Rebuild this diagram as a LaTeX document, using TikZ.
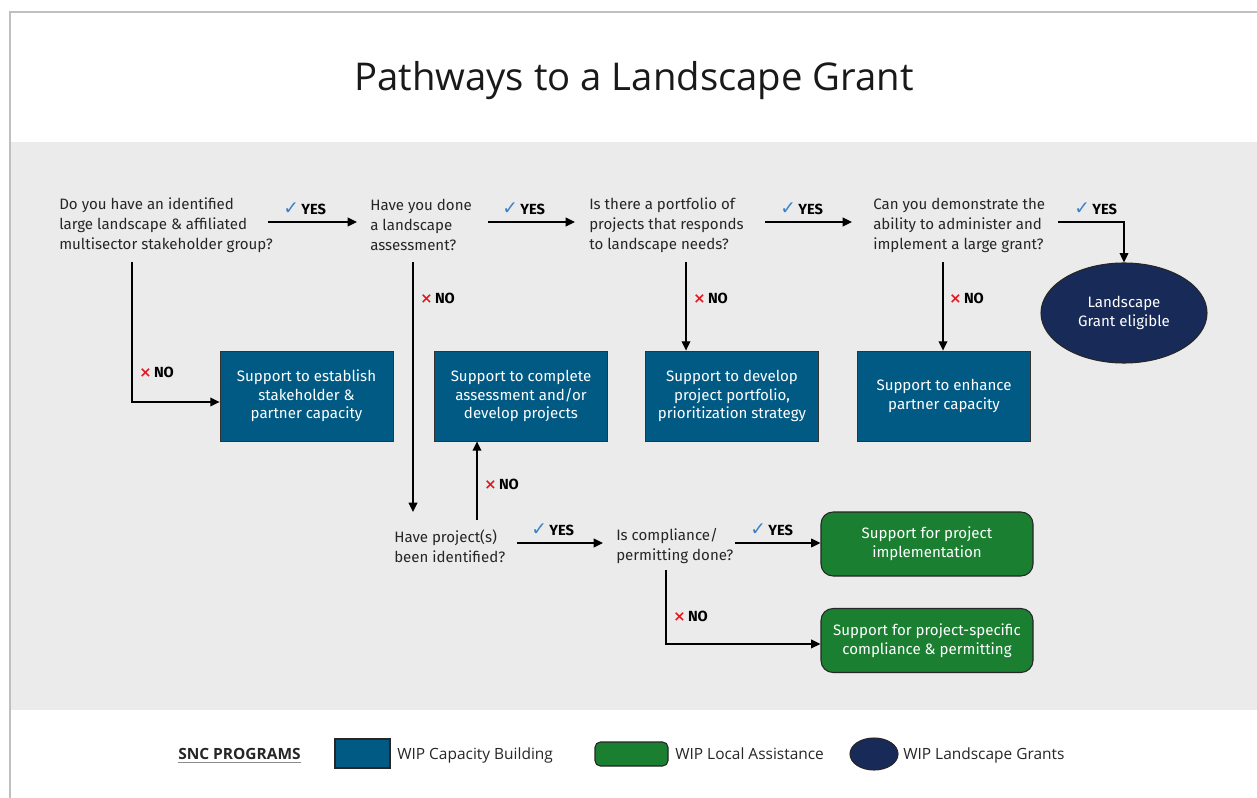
\documentclass[tikz,border=0pt]{standalone}
\usepackage{fontspec}
\setmainfont{Fira Sans}
\newfontfamily\legfont{Open Sans}
\newfontfamily\symfont{DejaVu Sans}
\usetikzlibrary{arrows.meta,shapes.geometric,calc}
\definecolor{bggray}{HTML}{EBEBEB}
\definecolor{capblue}{HTML}{005A84}
\definecolor{locgreen}{HTML}{1B7F31}
\definecolor{navy}{HTML}{172A58}
\definecolor{chkblue}{HTML}{3B82C8}
\definecolor{xred}{HTML}{E3161E}
\newcommand{\chk}{{\symfont\color{chkblue}\fontsize{14}{14}\selectfont ✓}}
\newcommand{\crs}{{\symfont\color{xred}\bfseries\fontsize{11}{11}\selectfont ×}}
\begin{document}
\begin{tikzpicture}[x=0.75pt,y=-0.75pt,
  arr/.style={line width=1.1pt,-{Triangle[length=7pt,width=6.5pt]}},
  qtext/.style={anchor=west,inner sep=0pt,align=left,font=\fontsize{11.3}{15}\selectfont,text=black!85},
  yeslab/.style={anchor=base west,inner sep=0pt,font=\fontsize{11}{12}\selectfont\bfseries},
  nolab/.style={anchor=base west,inner sep=0pt,font=\fontsize{11}{12}\selectfont\bfseries},
  capbox/.style={draw=black!80,line width=0.6pt,fill=capblue,text=white,align=center,
     minimum width=129.75pt,minimum height=67.5pt,inner sep=2pt,font=\fontsize{11.3}{14}\selectfont},
  locbox/.style={draw=black!85,line width=0.8pt,fill=locgreen,text=white,align=center,rounded corners=9pt,
     minimum width=159pt,minimum height=48pt,inner sep=2pt,font=\fontsize{11.3}{14}\selectfont},
  grantell/.style={ellipse,draw=black!85,line width=0.8pt,fill=navy,text=white,align=center,
     minimum width=124.5pt,minimum height=75pt,inner sep=0pt,font=\fontsize{11.3}{14}\selectfont},
  legtext/.style={anchor=base west,inner sep=0pt,font=\legfont\fontsize{11.6}{13}\selectfont,text=black!85}
]
\useasboundingbox (0,0) rectangle (1257,798);
\fill[white] (0,0) rectangle (1257,798);
\fill[bggray] (10,142) rectangle (1257,710);
\draw[black!25,line width=1.2pt] (10,798) -- (10,12) -- (1257,12);

% title
\node[font=\legfont\fontsize{28.7}{32}\selectfont,text=black!90] (title) at (634,81) {Pathways to a Landscape Grant};

% questions
\node[qtext] (q1) at (59,225) {Do you have an identified\\large landscape \& affiliated\\multisector stakeholder group?};
\node[qtext] (q2) at (370,225) {Have you done\\a landscape\\assessment?};
\node[qtext] (q3) at (589,225) {Is there a portfolio of\\projects that responds\\to landscape needs?};
\node[qtext] (q4) at (873,225) {Can you demonstrate the\\ability to administer and\\implement a large grant?};
\node[qtext] (q5) at (394,546) {Have project(s)\\been identified?};
\node[qtext] (q6) at (616,546) {Is compliance/\\permitting done?};

% outcome boxes
\node[capbox] (b1) at (306.5,396) {Support to establish\\stakeholder \&\\partner capacity};
\node[capbox] (b2) at (521,396) {Support to complete\\assessment and/or\\develop projects};
\node[capbox] (b3) at (732,396) {Support to develop\\project portfolio,\\prioritization strategy};
\node[capbox] (b4) at (944,396) {Support to enhance\\partner capacity};
\node[grantell] (el) at (1124,313) {Landscape\\Grant eligible};
\node[locbox] (g1) at (927,544) {Support for project\\implementation};
\node[locbox] (g2) at (927,640.5) {Support for project-specific\\compliance \& permitting};

% connector start points
\coordinate (y1s) at (268,222);
\coordinate (y1e) at (357,222);
\coordinate (y2s) at (488,222);
\coordinate (y2e) at (575,222);
\coordinate (y3s) at (765,222);
\coordinate (y3e) at (852,222);
\coordinate (y4s) at (1058,222);
\coordinate (y5s) at (517,543);
\coordinate (y5e) at (603,543);
\coordinate (y6s) at (735,543);
\coordinate (n1s) at (132,262);
\coordinate (n2s) at (413,262);
\coordinate (n2e) at (413,512);
\coordinate (n3s) at (686,262);
\coordinate (n4s) at (943,262);
\coordinate (n5s) at (477,520);
\coordinate (n6s) at (666,570);

% yes connectors
\draw[arr] (y1s) -- (y1e);
\draw[arr] (y2s) -- (y2e);
\draw[arr] (y3s) -- (y3e);
\draw[arr] (y4s) -| (el.north);
\draw[arr] (y5s) -- (y5e);
\draw[arr] (y6s) -- (y6s -| g1.west);

% no connectors
\draw[arr] (n1s) |- ([yshift=-4.5pt]b1.west);
\draw[arr] (n2s) -- (n2e);
\draw[arr] (n3s) -- (n3s |- b3.north);
\draw[arr] (n4s) -- (n4s |- b4.north);
\draw[arr] (n5s) -- (n5s |- b2.south);
\draw[arr] (n6s) |- ([yshift=-2.6pt]g2.west);

% labels
\node[yeslab] (ly1) at (283,215) {\chk\,YES};
\node[yeslab] (ly2) at (502,215) {\chk\,YES};
\node[yeslab] (ly3) at (780,215) {\chk\,YES};
\node[yeslab] (ly4) at (1074,215) {\chk\,YES};
\node[yeslab] (ly5) at (531,536) {\chk\,YES};
\node[yeslab] (ly6) at (750,536) {\chk\,YES};
\node[nolab] (ln1) at (139,378) {\crs\,NO};
\node[nolab] (ln2) at (420,304) {\crs\,NO};
\node[nolab] (ln3) at (693,304) {\crs\,NO};
\node[nolab] (ln4) at (949,304) {\crs\,NO};
\node[nolab] (ln5) at (484,489) {\crs\,NO};
\node[nolab] (ln6) at (673,621) {\crs\,NO};

% legend
\node[anchor=base west,inner sep=0pt,font=\legfont\fontsize{11.6}{13}\selectfont\bfseries,text=black!85] (snc) at (178,759) {SNC PROGRAMS};
\draw[black!45,line width=1pt] ([yshift=-2.5pt]snc.base west) -- ([yshift=-2.5pt]snc.base east);
\node[draw=black!85,line width=0.8pt,fill=capblue,minimum width=41.25pt,minimum height=21.75pt,inner sep=0pt] (lg1) at (362.5,753.5) {};
\node[legtext] (lt1) at (397,759) {WIP Capacity Building};
\node[draw=black!85,line width=0.8pt,fill=locgreen,rounded corners=4pt,minimum width=54.75pt,minimum height=18pt,inner sep=0pt] (lg2) at (631.5,754) {};
\node[legtext] (lt2) at (675,759) {WIP Local Assistance};
\node[ellipse,draw=black!85,line width=0.8pt,fill=navy,minimum width=36pt,minimum height=24pt,inner sep=0pt] (lg3) at (874,754) {};
\node[legtext] (lt3) at (903,759) {WIP Landscape Grants};
\end{tikzpicture}
\end{document}
